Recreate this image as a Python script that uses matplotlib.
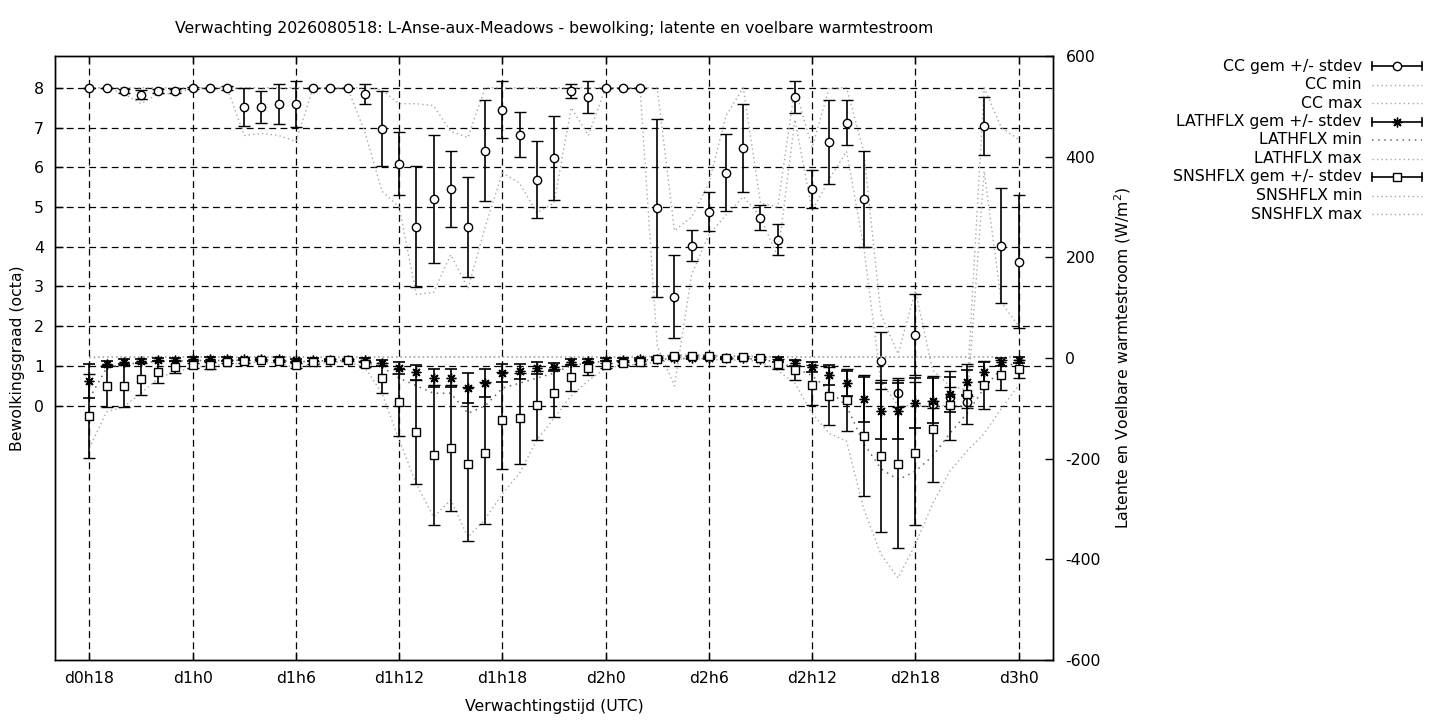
import matplotlib
matplotlib.use('Agg')
import matplotlib.pyplot as plt
from matplotlib.lines import Line2D

# ---------------- data (hourly, forecast hours 18 .. 72) ----------------
hours = list(range(18, 73))
tick_hours = [18, 24, 30, 36, 42, 48, 54, 60, 66, 72]
tick_labels = ["d0h18", "d1h0", "d1h6", "d1h12", "d1h18", "d2h0", "d2h6", "d2h12", "d2h18", "d3h0"]

cc_mean = [8.0, 8.0, 7.93, 7.83, 7.93, 7.93, 8.0, 8.0, 8.0, 7.52,
           7.52, 7.6, 7.6, 8.0, 8.0, 8.0, 7.85, 6.97, 6.09, 4.5,
           5.2, 5.46, 4.5, 6.42, 7.45, 6.82, 5.69, 6.24, 7.92, 7.77,
           8.0, 8.0, 8.0, 4.98, 2.74, 4.03, 4.88, 5.86, 6.49, 4.73,
           4.18, 7.77, 5.46, 6.64, 7.12, 5.2, 1.13, 0.33, 1.79, 0.03,
           0.23, 0.1, 7.04, 4.03, 3.62]
cc_err = [0, 0, 0.05, 0.12, 0.05, 0.05, 0.03, 0, 0.05, 0.48,
          0.41, 0.5, 0.58, 0, 0, 0, 0.25, 0.95, 0.8, 1.52,
          1.6, 0.96, 1.26, 1.28, 0.72, 0.57, 0.96, 1.06, 0.17, 0.41,
          0, 0, 0, 2.24, 1.04, 0.38, 0.49, 0.97, 1.1, 0.32,
          0.4, 0.41, 0.48, 1.05, 0.57, 1.2, 0.72, 0.37, 1.03, 0.1,
          0.25, 0.15, 0.72, 1.45, 1.67]
cc_min = [8, 8, 7.85, 7.6, 7.85, 7.85, 8, 8, 8, 6.8,
          6.85, 6.8, 6.65, 8, 8, 8, 6.9, 5.4, 5.0, 2.8,
          2.85, 3.8, 2.95, 4.5, 5.86, 5.6, 4.85, 5.1, 7.5, 6.8,
          8, 8, 8, 1.5, 0.5, 3.3, 4.3, 4.8, 5.26, 4.75,
          3.75, 7.2, 4.9, 5.7, 6.4, 4.0, 0.6, 0, 0, 0,
          0, 0, 5.9, 2.6, 2.0]
cc_max = [8, 8, 8, 8, 8, 8, 8, 8, 8, 8,
          8, 8, 8, 8, 8, 8, 8, 7.95, 7.6, 7.6,
          7.55, 6.9, 6.75, 8, 8, 8, 8, 8, 8, 8,
          8, 8, 8, 8, 4.4, 4.75, 5.6, 7.3, 8.0, 5.1,
          5.0, 8.0, 6.5, 8, 8, 6.4, 2.3, 1.3, 2.9, 0.9,
          0.5, 0.4, 8.0, 7.0, 6.7]

lat_mean = [-46, -12, -7, -6, -3, -3, -2, -2, -2, -2,
            -2, -2, -4, -3, -3, -3, -4, -9, -20, -28,
            -40, -40, -60, -50, -30, -26, -20, -17, -8, -5,
            -3, -3, -2, -1, 0, 0, 0, 0, 0, -1,
            -3, -10, -17, -34, -50, -82, -105, -105, -90, -85,
            -72, -48, -28, -8, -4]
lat_err = [34, 6, 5, 4, 3, 3, 3, 3, 3, 2,
           2, 3, 3, 3, 2, 2, 4, 6, 12, 15,
           18, 18, 30, 28, 18, 15, 12, 8, 6, 4,
           3, 3, 2, 2, 1, 1, 1, 1, 1, 2,
           4, 6, 10, 20, 25, 45, 55, 55, 50, 45,
           35, 25, 20, 8, 5]
lat_min = [-80, -20, -12, -10, -6, -6, -5, -5, -5, -4,
           -4, -5, -8, -6, -5, -5, -8, -18, -40, -55,
           -70, -70, -110, -95, -60, -50, -40, -30, -15, -10,
           -6, -6, -4, -3, -1, -1, -1, -1, -1, -3,
           -8, -20, -35, -65, -95, -170, -220, -242, -225, -195,
           -150, -110, -60, -20, -8]
lat_max = [2, 2, 2, 2, 2, 2, 2, 2, 2, 2,
           2, 2, 2, 2, 2, 2, 2, 2, 2, 2,
           2, 2, 2, 2, 2, 2, 2, 2, 2, 2,
           2, 2, 2, 2, 3, 3, 3, 3, 3, 2,
           2, 2, 2, 2, 2, 2, 2, 2, 2, 2,
           2, 2, 2, 2, 2]

sns_mean = [-115, -56, -56, -42, -28, -17, -14, -14, -7, -6,
            -4, -6, -14, -8, -4, -4, -12, -40, -88, -147,
            -193, -179, -211, -189, -124, -120, -94, -70, -38, -20,
            -14, -10, -8, -2, 4, 4, 3, 0, 2, 0,
            -12, -24, -54, -75, -83, -154, -195, -211, -189, -141,
            -94, -72, -54, -34, -22]
sns_err = [83, 42, 42, 32, 22, 12, 5, 7, 3, 3,
           2, 2, 5, 3, 2, 2, 5, 30, 66, 104,
           139, 125, 153, 141, 97, 91, 68, 48, 27, 13,
           5, 3, 3, 2, 2, 2, 2, 2, 2, 2,
           10, 20, 40, 58, 62, 121, 151, 167, 142, 105,
           69, 60, 48, 30, 18]
sns_min = [-179, -107, -97, -70, -40, -27, -20, -15, -12, -10,
           -8, -10, -20, -12, -8, -8, -18, -70, -163, -250,
           -316, -282, -356, -320, -270, -229, -163, -120, -75, -45,
           -20, -15, -12, -8, -2, -2, -2, -5, -3, -8,
           -25, -50, -110, -150, -165, -300, -390, -437, -370, -290,
           -225, -185, -150, -100, -55]
sns_max = [0, 2, 2, 2, 2, 2, 2, 2, 2, 2,
           2, 2, 2, 2, 2, 2, 2, 2, 2, 2,
           2, 2, 2, 2, 2, 2, 2, 2, 2, 2,
           2, 2, 2, 4, 6, 6, 6, 4, 5, 3,
           2, 2, 2, 2, 2, 2, 2, 2, 2, 2,
           2, 2, 2, 2, 2]

# ---------------- styling ----------------
FS = 11.3
plt.rcParams['font.family'] = ['DejaVu Sans']
W, H = 1440, 720
fig = plt.figure(figsize=(W / 100, H / 100), dpi=100)
ax = fig.add_axes([55 / W, 60 / H, 998 / W, 604 / H])
ax.set_xlim(16, 74)
ax.set_ylim(-6.4, 8.8)
ax2 = ax.twinx()
ax2.set_ylim(-600, 600)

grid_ls = (0, (5.5, 3.5))
for y in range(0, 9):
    ax.axhline(y, color='black', lw=0.9, ls=grid_ls, zorder=1)
for x in tick_hours:
    ax.axvline(x, color='black', lw=0.9, ls=grid_ls, zorder=1)

ax.set_xticks(tick_hours)
ax.set_xticklabels(tick_labels, fontsize=FS)
ax.set_yticks(range(0, 9))
ax.set_yticklabels([str(v) for v in range(0, 9)], fontsize=FS)
ax.tick_params(axis='x', direction='in', length=6, width=1, top=True, pad=8)
ax.tick_params(axis='y', direction='in', length=6, width=1, right=False, pad=8)
ax2.set_yticks([-600, -400, -200, 0, 200, 400, 600])
ax2.set_yticklabels(['-600', '-400', '-200', '0', '200', '400', '600'], fontsize=FS)
ax2.tick_params(axis='y', direction='in', length=6, width=1, pad=9)
for a in (ax, ax2):
    for s in a.spines.values():
        s.set_linewidth(1.0)

dot = (0, (1, 2.2))
gray = '#a8a8a8'

# CC
ax.plot(hours, cc_min, color=gray, ls=dot, lw=1.0, zorder=2)
ax.plot(hours, cc_max, color=gray, ls=dot, lw=1.0, zorder=2)
ax.errorbar(hours, cc_mean, yerr=cc_err, fmt='o', ms=6, mfc='white', mec='black', mew=1.0,
            ecolor='black', elinewidth=1.2, capsize=4.5, capthick=1.2, zorder=6)

# fluxes
ast = (8, 2, 0)
ax2.plot(hours, lat_min, color='#666666', ls=(0, (1, 3)), lw=1.1, zorder=2)
ax2.plot(hours, lat_max, color=gray, ls=dot, lw=1.0, zorder=2)
ax2.plot(hours, sns_min, color=gray, ls=dot, lw=1.0, zorder=2)
ax2.plot(hours, sns_max, color=gray, ls=dot, lw=1.0, zorder=2)
ax2.errorbar(hours, lat_mean, yerr=lat_err, fmt='none', ecolor='black', elinewidth=1.2,
             capsize=4.5, capthick=1.2, zorder=4)
ax2.plot(hours, lat_mean, ls='none', marker=ast, ms=7, mec='black', mew=1.0, zorder=5)
ax2.errorbar(hours, sns_mean, yerr=sns_err, fmt='s', ms=6, mfc='white', mec='black', mew=1.0,
             ecolor='black', elinewidth=1.2, capsize=4.5, capthick=1.2, zorder=5)

# texts
fig.text(554 / W, 1 - 29 / H, "Verwachting 2026080518: L-Anse-aux-Meadows - bewolking; latente en voelbare warmtestroom",
         ha='center', va='center', fontsize=FS)
fig.text(554 / W, 1 - 707 / H, "Verwachtingstijd (UTC)", ha='center', va='center', fontsize=FS)
fig.text(18 / W, 1 - 358 / H, "Bewolkingsgraad (octa)", ha='center', va='center', rotation=90, fontsize=FS)
fig.text(1123 / W, 1 - 358 / H, "Latente en Voelbare warmtestroom (W/m$^2$)", ha='center', va='center',
         rotation=90, fontsize=FS)

# legend (gnuplot style: right-aligned text, sample to the right)
entries = [
    ("CC gem +/- stdev", 'err', 'o'),
    ("CC min", 'dot', None),
    ("CC max", 'dot', None),
    ("LATHFLX gem +/- stdev", 'err', ast),
    ("LATHFLX min", 'dotdark', None),
    ("LATHFLX max", 'dot', None),
    ("SNSHFLX gem +/- stdev", 'err', 's'),
    ("SNSHFLX min", 'dot', None),
    ("SNSHFLX max", 'dot', None),
]
x_text = 1362
x0, x1 = 1372, 1422
for i, (lab, kind, mk) in enumerate(entries):
    yp = 66 + i * 18.5
    fy = 1 - yp / H
    fig.text(x_text / W, fy, lab, ha='right', va='center', fontsize=FS)
    if kind == 'err':
        fig.add_artist(Line2D([x0 / W, x1 / W], [fy, fy], color='black', lw=1.2))
        for xc in (x0, x1):
            fig.add_artist(Line2D([xc / W, xc / W], [fy - 4 / H, fy + 4 / H], color='black', lw=1.2))
        fig.add_artist(Line2D([(x0 + x1) / 2 / W], [fy], ls='none', marker=mk, ms=6 if mk != ast else 7,
                              mfc='white', mec='black', mew=1.0))
    elif kind == 'dot':
        fig.add_artist(Line2D([x0 / W, x1 / W], [fy, fy], color=gray, ls=dot, lw=1.0))
    else:
        fig.add_artist(Line2D([x0 / W, x1 / W], [fy, fy], color='#666666', ls=(0, (1, 3)), lw=1.1))

fig.savefig('out.png', dpi=100)
